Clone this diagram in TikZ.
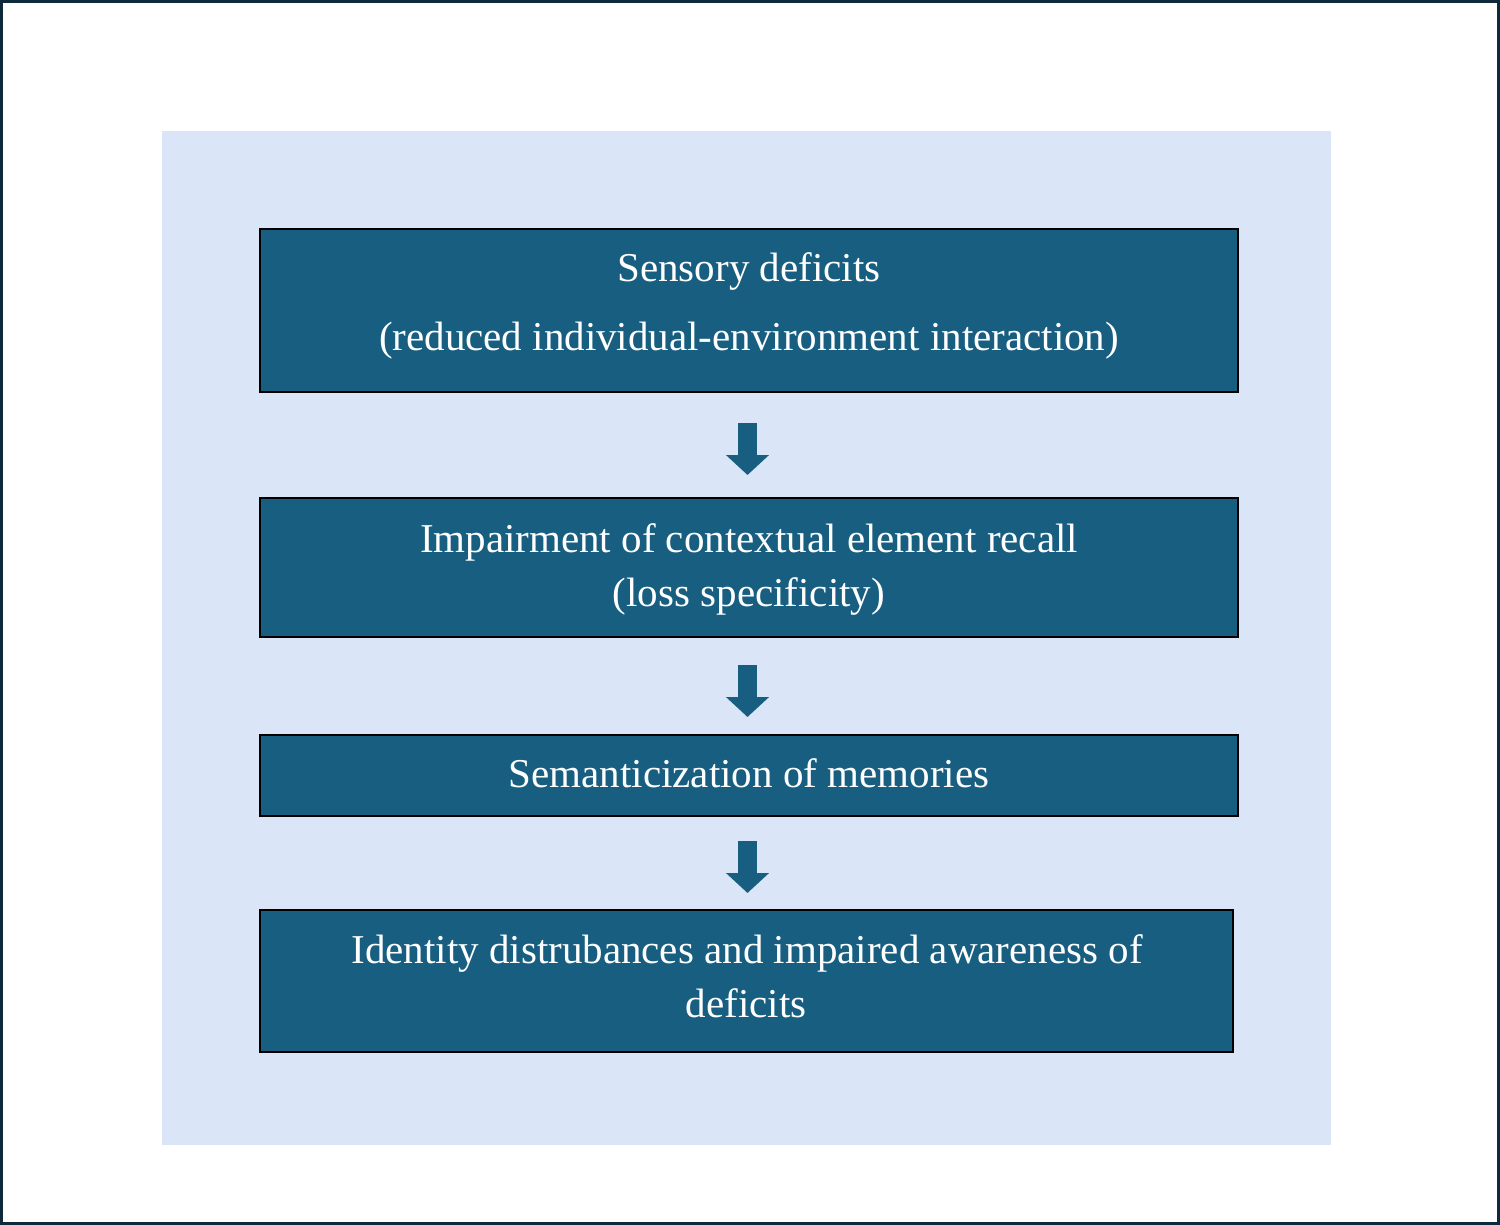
\documentclass[tikz,border=0pt]{standalone}
\usepackage{fontspec}
\setmainfont{Liberation Serif}
\usetikzlibrary{arrows.meta}
\definecolor{frame}{RGB}{14,42,58}
\definecolor{panel}{RGB}{218,229,247}
\definecolor{boxfill}{RGB}{23,94,128}
\tikzset{
  stepbox/.style={draw=black, line width=2.5pt, fill=boxfill, inner sep=0pt, outer sep=0pt, minimum width=978pt},
  label text/.style={text=white, font=\fontsize{41}{48}\selectfont, anchor=base, inner sep=0pt},
  flowarrow/.style={draw=boxfill, line width=19pt, -{Triangle[width=42pt,length=20pt]}}
}
\begin{document}
\begin{tikzpicture}[x=1pt,y=-1pt]
\useasboundingbox (0,0) rectangle (1500,1225);
\draw[frame, line width=3pt] (1.5,1.5) rectangle (1498.5,1223.5);
\fill[panel] (162,131) rectangle (1331,1145);

\node[stepbox, minimum height=163pt] (b1) at (749,310.5) {};
\node[stepbox, minimum height=139pt] (b2) at (749,567.5) {};
\node[stepbox, minimum height=81pt] (b3) at (749,775.5) {};
\node[stepbox, minimum height=142pt, minimum width=973pt] (b4) at (746.5,981) {};

\node[label text] (t1a) at (749,282) {Sensory deficits};
\node[label text] (t1b) at (749,350) {(reduced individual-environment interaction)};
\node[label text] (t2a) at (749,552) {Impairment of contextual element recall};
\node[label text] (t2b) at (749,606) {(loss specificity)};
\node[label text] (t3a) at (749,787) {Semanticization of memories};
\node[label text] (t4a) at (747,963) {Identity distrubances and impaired awareness of};
\node[label text] (t4b) at (746,1017) {deficits};

\coordinate (a1s) at (747.5,423);
\coordinate (a1e) at (747.5,475);
\coordinate (a2s) at (747.5,665);
\coordinate (a2e) at (747.5,717);
\coordinate (a3s) at (747.5,841);
\coordinate (a3e) at (747.5,893);
\draw[flowarrow] (a1s) -- (a1e);
\draw[flowarrow] (a2s) -- (a2e);
\draw[flowarrow] (a3s) -- (a3e);
\end{tikzpicture}
\end{document}
